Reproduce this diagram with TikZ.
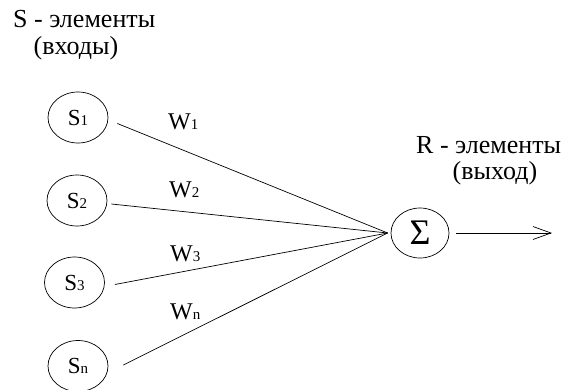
\documentclass[tikz,border=0pt]{standalone}
\usepackage{fontspec}
\setmainfont{Liberation Serif}
\usetikzlibrary{shapes.geometric,arrows.meta}
\newcommand\subsc[1]{{\fontsize{15}{15}\selectfont #1}}
\begin{document}
\begin{tikzpicture}[x=1pt,y=-1pt,
  inp/.style={draw, ellipse, inner sep=0pt, minimum width=60pt, minimum height=51pt, line width=0.7pt, font=\fontsize{23}{24}\selectfont},
  wlbl/.style={font=\fontsize{24}{26}\selectfont, inner sep=0pt, anchor=base west},
  ttl/.style={font=\fontsize{26}{28}\selectfont, inner sep=0pt},
  con/.style={line width=0.7pt}]
\useasboundingbox (0,0) rectangle (566,389);
% titles
\node[ttl, anchor=base west] (tS) at (13,27) {S - элементы};
\node[ttl, anchor=base] (tSb) at (76,54) {(входы)};
\node[ttl, anchor=base west] (tR) at (416,153) {R - элементы};
\node[ttl, anchor=base] (tRb) at (495,179) {(выход)};
% inputs
\node[inp] (s1) at (78,117.5) {S\subsc{1}};
\node[inp] (s2) at (77,200.5) {S\subsc{2}};
\node[inp] (s3) at (74.5,282.5) {S\subsc{3}};
\node[inp] (sn) at (78,366) {S\subsc{n}};
% sum
\node[draw, ellipse, inner sep=0pt, minimum width=58pt, minimum height=50pt, line width=0.7pt, font=\fontsize{36}{36}\selectfont] (sig) at (420,233) {Σ};
% connectors
\draw[con] ([shift={(9,6)}]s1.east) -- ([shift={(-3,0)}]sig.west);
\draw[con] ([shift={(4,3.5)}]s2.east) -- ([shift={(-3,0)}]sig.west);
\draw[con] ([shift={(10,2)}]s3.east) -- ([shift={(-3,0)}]sig.west);
\draw[con] ([shift={(15,-1)}]sn.east) -- ([shift={(-3,0)}]sig.west);
\coordinate (out) at (552,233);
\draw[con, -{Straight Barb[length=18pt,width=13pt,line width=0.7pt]}] ([xshift=7pt]sig.east) -- (out);
% weights
\node[wlbl] (w1) at (168,129) {W\subsc{1}};
\node[wlbl] (w2) at (169,197) {W\subsc{2}};
\node[wlbl] (w3) at (170,261) {W\subsc{3}};
\node[wlbl] (wn) at (170,319) {W\subsc{n}};
\end{tikzpicture}
\end{document}
